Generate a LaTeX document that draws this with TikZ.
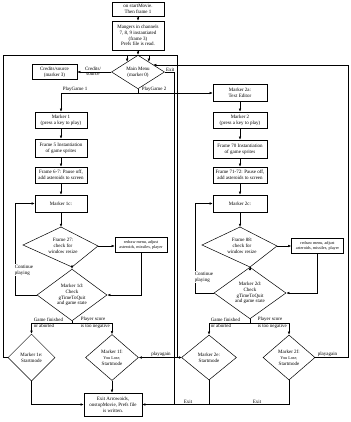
\documentclass[tikz,border=0pt]{standalone}
\usepackage{fontspec}
\setmainfont{Liberation Serif}
\usetikzlibrary{shapes.geometric,arrows.meta}
\newcommand\fsz{\fontsize{5}{5.8}\selectfont}
\newcommand\fss{\fontsize{4.2}{5}\selectfont}
\begin{document}
\begin{tikzpicture}[x=1pt,y=-1pt, line width=0.5pt,
  >={Latex[length=3.2pt,width=2.6pt]},
  box/.style={draw, font=\fsz, align=center, inner sep=0.5pt, minimum width=52pt},
  dia/.style={draw, diamond, font=\fsz, align=center, inner sep=0pt},
  dtext/.style={font=\fsz, align=center, inner sep=0pt},
  lbl/.style={font=\fsz, inner sep=0.5pt, align=left}]
\useasboundingbox (0,0) rectangle (350,422);
% main column
\node[box, minimum height=14pt] (start) at (138,9) {on startMovie.\\Then frame 1};
\node[box, minimum height=29pt] (prefs) at (138,35.5) {Mangers in channels\\7, 8, 9 instantiated\\(frame 3)\\Prefs file is read.};
\node[dia, minimum width=53pt, minimum height=30pt] (menu) at (138,72) {Main Menu\\(marker 0)};
\node[box, minimum width=45pt, minimum height=15pt] (credits) at (54.5,72) {Credits/source\\(marker 3)};
% left column
\node[box, minimum height=16pt] (m1) at (61,120) {Marker 1\\(press a key to play)};
\node[box, minimum height=18pt] (f5) at (61,148) {Frame 5 Instantiation\\of game sprites};
\node[box, minimum height=16pt] (f67) at (61,175) {Frame 6-7: Pause off,\\add asteroids to screen};
\node[box, minimum height=17pt] (m1c) at (61,203.5) {Marker 1c:};
\coordinate (f27t) at (61,227);
\coordinate (f27r) at (98,246);
\coordinate (f27b) at (72,267);
\coordinate (f27l) at (23,245);
\draw (f27t) -- (f27r) -- (f27b) -- (f27l) -- cycle;
\node[dtext] (f27) at (63,246) {Frame 27:\\check for\\window resize};
\node[box, minimum height=15pt, font=\fss] (rd1) at (141,245) {redraw menu, adjust\\asteroids, missiles, player};
\node[dia, minimum width=70pt, minimum height=50pt] (m1d) at (72,295) {Marker 1d:\\Check\\gTimeToQuit\\and game state};
\node[dia, minimum width=47pt, minimum height=47pt] (m1e) at (31.5,357.5) {Marker 1e:\\Startmode};
\node[dia, minimum width=53pt, minimum height=46pt] (m1f) at (112,357.5) {Marker 1f:\\{\fss You Lose,}\\Startmode};
\node[box, minimum width=58pt, minimum height=23pt] (fin) at (113,404.5) {Exit Arrowoids,\\onstopMovie, Prefs file\\is written.};
% right column
\node[box, minimum width=54pt, minimum height=17pt] (m2a) at (240,93) {Marker 2a:\\Text Editor};
\node[box, minimum width=54pt, minimum height=16pt] (m2) at (240,120) {Marker 2\\(press a key to play)};
\node[box, minimum width=54pt, minimum height=18pt] (f70) at (240,149) {Frame 70 Instantiation\\of game sprites};
\node[box, minimum width=54pt, minimum height=16pt] (f71) at (240,175) {Frame 71-72: Pause off,\\add asteroids to screen};
\node[box, minimum width=54pt, minimum height=17pt] (m2c) at (240,203.5) {Marker 2c:};
\coordinate (f88t) at (240,227);
\coordinate (f88r) at (277,246);
\coordinate (f88b) at (250,267);
\coordinate (f88l) at (202,245);
\draw (f88t) -- (f88r) -- (f88b) -- (f88l) -- cycle;
\node[dtext] (f88) at (242,246) {Frame 88:\\check for\\window resize};
\node[box, minimum height=15pt, font=\fss] (rd2) at (317.5,245.5) {redraw menu, adjust\\asteroids, missiles, player};
\node[dia, minimum width=72pt, minimum height=50pt] (m2d) at (250,293) {Marker 2d:\\Check\\gTimeToQuit\\and game state};
\node[dia, minimum width=55pt, minimum height=45pt] (m2e) at (209,357.5) {Marker 2e:\\Startmode};
\node[dia, minimum width=52pt, minimum height=45pt] (m2f) at (289,357.5) {Marker 2f:\\{\fss You Lose,}\\Startmode};
% coordinates
\coordinate (pg) at (138,93);
\coordinate (tl) at (3,55);
\coordinate (tr) at (177,55);
\coordinate (pa) at (177,357.5);
\coordinate (ex) at (174,404.5);
\coordinate (rc) at (348,65);
\coordinate (lp1) at (15,203.5);
\coordinate (lp2) at (195,203.5);
\coordinate (s1) at (72,323);
\coordinate (s2) at (250,323);
% connectors main
\draw[->] (start) -- (prefs);
\draw[->] (prefs) -- (menu);
\draw[->] (menu.west) -- (credits.east);
\node[lbl, anchor=south] (lcr1) at (93,71.5) {Credits/};
\node[lbl, anchor=north] (lcr2) at (93,72.5) {source};
\draw (menu.south) -- (pg);
\draw[->] (pg) -| (m1.north);
\draw[->] (pg) -- (m2a.west);
\node[lbl, anchor=south west] (lpg1) at (62,92.5) {PlayGame 1};
\node[lbl, anchor=south west] (lpg2) at (141,92.5) {PlayGame 2};
\draw[->] (menu.east) -| (ex) -- (fin.east);
\node[lbl, anchor=south west] (lex) at ([xshift=0.5pt]menu.east) {Exit};
% loops back to menu
\draw (m1e.west) -| (tl) -- (tr) -- (pa);
\draw[->] (pa) -- (m1f.east);
\draw[->] (m2e.west) -- (pa);
\draw[->] (tl -| menu.137) -- (menu.137);
\draw[->] (tl -| menu.43) -- (menu.43);
\draw[->] (m2f.east) -| (rc) -- (rc -| menu.26);
\node[lbl, anchor=south] (lpa1) at (161,357.5) {playagain};
\node[lbl, anchor=south west] (lpa2) at (317,357.5) {playagain};
% left column flow
\draw[->] (m1) -- (f5);
\draw[->] (f5) -- (f67);
\draw[->] (f67) -- (m1c);
\draw[->] (m1c) -- (f27t);
\draw[->] (f27r) -- (f27r -| rd1.west);
\draw[->] (rd1.south) |- (m1d.east);
\draw[->] (f27b) -- (m1d.north);
\draw[->] (m1d.west) -| (lp1) -- (m1c.west);
\node[lbl, fill=white, anchor=west] (lcp1) at (14,270) {Continue\\playing};
\draw (m1d.south) -- (s1);
\draw[->] (s1) -| (m1e.north);
\draw[->] (s1) -| (m1f.north);
\node[lbl, anchor=south west] (lgf1) at (33,322.5) {Game finished};
\node[lbl, anchor=north west] (loa1) at (33,323.5) {or aborted};
\node[lbl, anchor=south west] (lps1) at (80,322.5) {Player score};
\node[lbl, anchor=north west] (ltn1) at (80,323.5) {is too negative};
\draw[->] (m1e.south) |- (fin.west);
\draw[->] (m1f.south) -- (m1f.south |- fin.north);
% right column flow
\draw[->] (m2a) -- (m2);
\draw[->] (m2) -- (f70);
\draw[->] (f70) -- (f71);
\draw[->] (f71) -- (m2c);
\draw[->] (m2c) -- (f88t);
\draw[->] (f88r) -- (f88r -| rd2.west);
\draw[->] (rd2.south) |- (m2d.east);
\draw[->] (f88b) -- (m2d.north);
\draw[->] (m2d.west) -| (lp2) -- (m2c.west);
\node[lbl, fill=white, anchor=west] (lcp2) at (194,277) {Continue\\playing};
\draw (m2d.south) -- (s2);
\draw[->] (s2) -| (m2e.north);
\draw[->] (s2) -| (m2f.north);
\node[lbl, anchor=south west] (lgf2) at (210,322.5) {Game finished};
\node[lbl, anchor=north west] (loa2) at (210,323.5) {or aborted};
\node[lbl, anchor=south west] (lps2) at (257,322.5) {Player score};
\node[lbl, anchor=north west] (ltn2) at (257,323.5) {is too negative};
\draw (m2f.south) |- (m2e.south |- ex);
\draw (m2e.south) |- (ex);
\node[lbl, anchor=south] (lex2) at (188,404.5) {Exit};
\node[lbl, anchor=south] (lex3) at (257,404.5) {Exit};
\end{tikzpicture}
\end{document}
